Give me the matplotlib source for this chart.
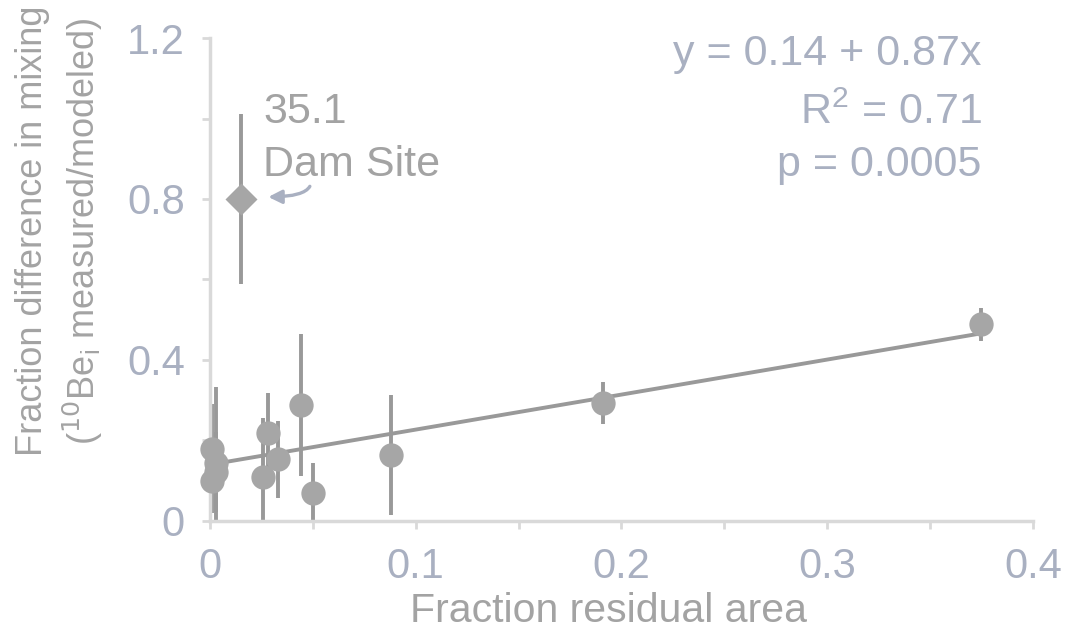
import numpy as np
import matplotlib
matplotlib.use("Agg")
import matplotlib.pyplot as plt

plt.rcParams['font.family'] = ['Liberation Sans', 'DejaVu Sans']

# residual area fraction vs. measured/modeled mixing difference
frac_area = [0.375, 0.191, 0.088, 0.050, 0.044, 0.028, 0.033, 0.026, 0.001, 0.003, 0.003, 0.001]
frac_diff = [0.489, 0.293, 0.164, 0.070, 0.288, 0.218, 0.153, 0.109, 0.180, 0.143, 0.122, 0.100]
diff_err = [0.041, 0.052, 0.150, 0.075, 0.177, 0.100, 0.095, 0.146, 0.110, 0.190, 0.100, 0.080]

# dam site (35.1), left out of the fit
dam_x = 0.015
dam_y = 0.80
dam_err = 0.21

fit_a = 0.14
fit_b = 0.87
fit_r2 = 0.71
fit_p = 0.0005
fit_x = [0.001, 0.375]

xticks = [0, 0.1, 0.2, 0.3, 0.4]
xticklabels = ["0", "0.1", "0.2", "0.3", "0.4"]
yticks = [0, 0.4, 0.8, 1.2]
yticklabels = ["0", "0.4", "0.8", "1.2"]

axis_c = "#d9d9d9"
tick_c = "#a9b0c1"
label_c = "#a3a3a3"
bar_c = "#999999"
dot_c = "#a6a6a6"

fig = plt.figure(figsize=(10.67, 6.4), dpi=100)
ax = fig.add_axes([0.1968, 0.186, 0.7712, 0.7546])

ax.errorbar(frac_area, frac_diff, yerr=diff_err, fmt="none", ecolor=bar_c,
            elinewidth=2.8, capsize=0, zorder=2)
ax.errorbar([dam_x], [dam_y], yerr=[dam_err], fmt="none", ecolor=bar_c,
            elinewidth=2.8, capsize=0, zorder=2)

fx = np.array(fit_x)
ax.plot(fx, fit_a + fit_b * fx, color=bar_c, lw=2.8, zorder=3)

ax.plot(frac_area, frac_diff, "o", ms=17.5, color=dot_c, mec="none",
        zorder=4, clip_on=False)
ax.plot([dam_x], [dam_y], "D", ms=16, color=dot_c, mec="none",
        zorder=4, clip_on=False)

ax.set_xlim(0, 0.4)
ax.set_ylim(0, 1.2)
ax.set_xticks(xticks)
ax.set_xticklabels(xticklabels)
ax.set_xticks(np.arange(0.05, 0.4, 0.1), minor=True)
ax.set_yticks(yticks)
ax.set_yticklabels(yticklabels)
ax.set_yticks([0.2, 0.6, 1.0], minor=True)

for s in ["top", "right"]:
    ax.spines[s].set_visible(False)
for s in ["left", "bottom"]:
    ax.spines[s].set_color(axis_c)
    ax.spines[s].set_linewidth(2.5)

ax.tick_params(which="both", direction="out", length=6, width=2, color=axis_c)
ax.tick_params(axis="x", which="major", labelsize=30, labelcolor=tick_c, pad=13)
ax.tick_params(axis="y", which="major", labelsize=30, labelcolor=tick_c, pad=12)

fig.text(609 / 1067, 1 - 611 / 640, "Fraction residual area", fontsize=29.5,
         color=label_c, ha="center", va="center")
fig.text(60 / 1067, 1 - 231 / 640,
         "Fraction difference in mixing\n($^{10}$Be$_{\\mathregular{i}}$ measured/modeled)",
         fontsize=26, color=label_c, ha="center", va="center", rotation=90,
         linespacing=1.3, multialignment="center")

ax.text(0.375, 1.16, "y = %.2f + %.2fx" % (fit_a, fit_b), fontsize=31,
        color=tick_c, ha="right", va="center")
ax.text(0.375, 1.015, "R$^{\\mathregular{2}}$ = %.2f" % fit_r2, fontsize=31,
        color=tick_c, ha="right", va="center")
ax.text(0.375, 0.885, "p = %.4f" % fit_p, fontsize=31,
        color=tick_c, ha="right", va="center")

ax.text(0.026, 1.015, "35.1", fontsize=31, color=label_c, ha="left", va="center")
ax.text(0.026, 0.885, "Dam Site", fontsize=31, color=label_c, ha="left", va="center")
# hooked arrow pointing back at the dam-site diamond
ax.annotate("", xy=(0.027, 0.805), xytext=(0.049, 0.838),
            arrowprops=dict(arrowstyle="-|>", color=tick_c, lw=2.4,
                            mutation_scale=20,
                            connectionstyle="angle3,angleA=-100,angleB=0"))

fig.savefig("out.png", dpi=100)
